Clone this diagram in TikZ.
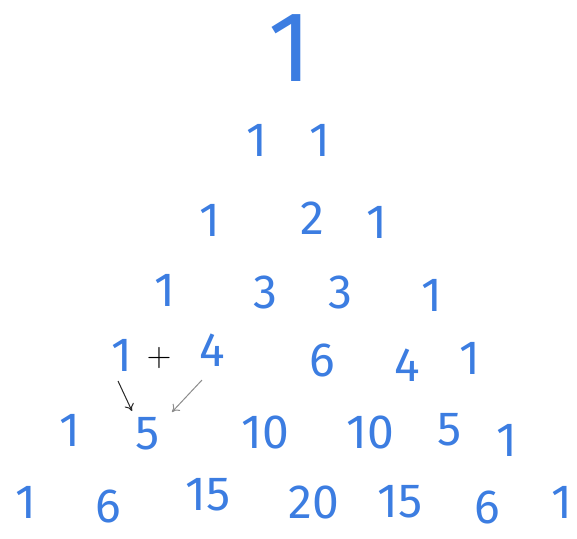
\documentclass[tikz,border=0pt]{standalone}
\usepackage{fontspec}
\setmainfont{Fira Sans}
\newfontfamily\lmr{Latin Modern Roman}
\usetikzlibrary{arrows.meta}
\definecolor{ink}{RGB}{60,125,225}
\definecolor{darkpen}{RGB}{40,40,40}
\definecolor{graypen}{RGB}{140,140,140}
\begin{document}
\begin{tikzpicture}[x=1pt,y=-1pt,
  num/.style={text=ink,inner sep=0pt,font=\fontsize{48}{48}\selectfont},
  big/.style={text=ink,inner sep=0pt,font=\fontsize{100}{100}\selectfont},
  arr/.style={line width=1pt,-{To[length=7pt,width=10pt]}}]
\useasboundingbox (0,0) rectangle (577,538);
% row 0
\node[big] (r0a) at (290,48) {1};
% row 1
\node[num] (r1a) at (257,140) {1};
\node[num] (r1b) at (320,140) {1};
% row 2
\node[num] (r2a) at (210,220) {1};
\node[num] (r2b) at (312,218) {2};
\node[num] (r2c) at (377,222) {1};
% row 3
\node[num] (r3a) at (165,290) {1};
\node[num] (r3b) at (265,292) {3};
\node[num] (r3c) at (340,292) {3};
\node[num] (r3d) at (432,295) {1};
% row 4
\node[num] (r4a) at (122,355) {1};
\node[text=black,inner sep=0pt,font=\lmr\fontsize{34}{34}\selectfont] (plus) at (159,358) {+};
\node[num] (r4b) at (212,350) {4};
\node[num] (r4c) at (322,360) {6};
\node[num] (r4d) at (407,365) {4};
\node[num] (r4e) at (470,358) {1};
% row 5
\node[num] (r5a) at (70,430) {1};
\node[num] (r5b) at (148,434) {5};
\node[num] (r5c) at (265,432) {10};
\node[num] (r5d) at (370,432) {10};
\node[num] (r5e) at (450,430) {5};
\node[num] (r5f) at (507,440) {1};
% row 6
\node[num] (r6a) at (26,502) {1};
\node[num] (r6b) at (108,506) {6};
\node[num] (r6c) at (208,495) {15};
\node[num] (r6d) at (314,502) {20};
\node[num] (r6e) at (400,502) {15};
\node[num] (r6f) at (487,507) {6};
\node[num] (r6g) at (562,502) {1};
% arrows
\coordinate (a1s) at (118,381);
\coordinate (a1e) at (132,411);
\coordinate (a2s) at (202,380);
\coordinate (a2e) at (172,412);
\draw[arr,darkpen] (a1s) -- (a1e);
\draw[arr,graypen] (a2s) -- (a2e);
\end{tikzpicture}
\end{document}
